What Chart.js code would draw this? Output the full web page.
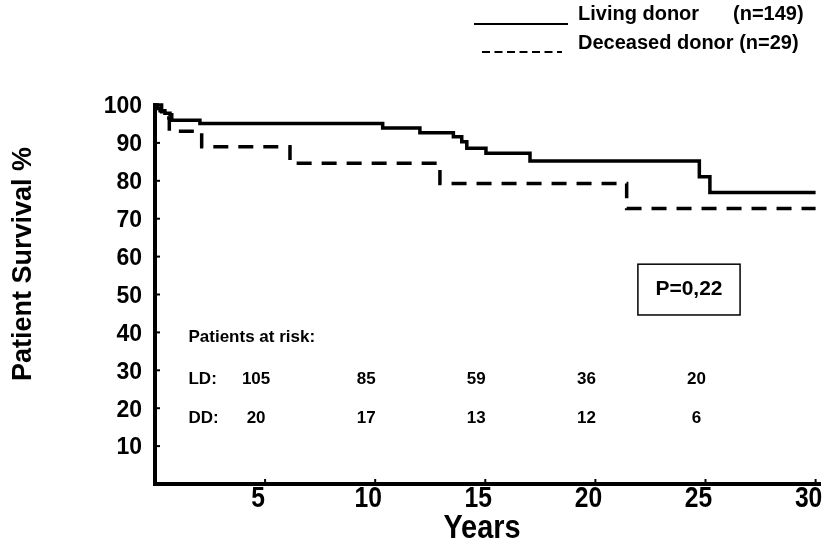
<!DOCTYPE html>
<html>
<head>
<meta charset="utf-8">
<script src="https://cdn.jsdelivr.net/npm/chart.js@4.4.1/dist/chart.umd.min.js"></script>
<style>
  html, body { margin: 0; padding: 0; background: #fff; }
  #wrap { width: 836px; height: 546px; position: relative; }
</style>
</head>
<body>
<div id="wrap"><canvas id="c" width="836" height="546"></canvas></div>
<script>
// Series labels
const seriesNames = ['Living donor', 'Deceased donor'];
const seriesCounts = ['(n=149)', '(n=29)'];

// Kaplan–Meier steps: time in years, survival in %
const ldYears    = [0, 0.09, 0.23, 0.45, 0.68, 0.76, 2.04, 10.34, 12.03, 13.55, 13.93, 14.16, 15.03, 17.03, 24.72, 25.2, 30];
const ldSurvival = [100, 99.1, 98.5, 97.8, 97.4, 96.0, 95.1, 93.9, 92.7, 91.6, 90.3, 88.6, 87.3, 85.2, 81.1, 76.9, 76.9];
const ddYears    = [0, 0.3, 0.65, 2.12, 6.13, 12.94, 21.42, 30];
const ddSurvival = [100, 96.6, 93.1, 89.0, 84.6, 79.3, 72.7, 72.7];

// Axis ticks
const xTickValues = [5, 10, 15, 20, 25, 30];
const yTickValues = [10, 20, 30, 40, 50, 60, 70, 80, 90, 100];

// Numbers at risk
const riskYears = [5, 10, 15, 20, 25];
const riskLD = [105, 85, 59, 36, 20];
const riskDD = [20, 17, 13, 12, 6];

const pValueText = 'P=0,22';

const FONT = '"Liberation Sans", Arial, sans-serif';

const toPoints = (xs, ys) => xs.map((t, i) => ({ x: t, y: ys[i] }));

// condensed bold text: regular face squeezed horizontally
function narrowText(ctx, text, cx, cy, size) {
  ctx.save();
  ctx.translate(cx, cy);
  ctx.scale(0.85, 1);
  ctx.font = 'bold ' + size + 'px ' + FONT;
  ctx.textAlign = 'center';
  ctx.textBaseline = 'middle';
  ctx.fillText(text, 0, 0);
  ctx.restore();
}

const overlay = {
  id: 'overlay',
  afterDraw(chart) {
    const { ctx, scales: { x, y } } = chart;
    ctx.save();
    ctx.fillStyle = '#000';
    ctx.strokeStyle = '#000';

    // small inner tick marks
    ctx.lineWidth = 2;
    xTickValues.forEach(v => {
      const px = x.getPixelForValue(v);
      ctx.beginPath(); ctx.moveTo(px, y.bottom); ctx.lineTo(px, y.bottom - 5); ctx.stroke();
    });
    yTickValues.slice(0, -1).forEach(v => {
      const py = y.getPixelForValue(v);
      ctx.beginPath(); ctx.moveTo(x.left, py); ctx.lineTo(x.left + 5, py); ctx.stroke();
    });

    // x tick labels (condensed)
    xTickValues.forEach(v => {
      narrowText(ctx, String(v), x.getPixelForValue(v) - 7, y.bottom + 15, 29);
    });

    // axis titles
    narrowText(ctx, 'Years', 482, 529, 34);

    ctx.save();
    ctx.translate(24, 264);
    ctx.rotate(-Math.PI / 2);
    ctx.font = 'bold 27px ' + FONT;
    ctx.textAlign = 'center';
    ctx.textBaseline = 'middle';
    ctx.fillText('Patient Survival %', 0, 0);
    ctx.restore();

    // legend
    ctx.font = 'bold 20px ' + FONT;
    ctx.textAlign = 'left';
    ctx.textBaseline = 'middle';
    ctx.fillText(seriesNames[0], 578, 14);
    ctx.fillText(seriesCounts[0], 733, 14);
    ctx.fillText(seriesNames[1] + ' ' + seriesCounts[1], 578, 43);
    ctx.lineWidth = 1.8;
    ctx.beginPath(); ctx.moveTo(474, 24); ctx.lineTo(568, 24); ctx.stroke();
    ctx.setLineDash([8, 4.5]);
    ctx.beginPath(); ctx.moveTo(482, 52); ctx.lineTo(562, 52); ctx.stroke();
    ctx.setLineDash([]);

    // p-value box
    const bx0 = x.getPixelForValue(21.93), bx1 = x.getPixelForValue(26.57);
    const by0 = y.getPixelForValue(58.0), by1 = y.getPixelForValue(44.6);
    ctx.lineWidth = 1.5;
    ctx.strokeRect(bx0, by0, bx1 - bx0, by1 - by0);
    ctx.font = 'bold 21px ' + FONT;
    ctx.textAlign = 'center';
    ctx.fillText(pValueText, (bx0 + bx1) / 2, (by0 + by1) / 2);

    // numbers at risk
    ctx.font = 'bold 17px ' + FONT;
    ctx.textAlign = 'left';
    const tx = x.getPixelForValue(1.52);
    ctx.fillText('Patients at risk:', tx, y.getPixelForValue(38.8));
    ctx.fillText('LD:', tx, y.getPixelForValue(27.7));
    ctx.fillText('DD:', tx, y.getPixelForValue(17.4));
    ctx.textAlign = 'center';
    riskYears.forEach((t, i) => {
      const px = x.getPixelForValue(t) - 9;
      ctx.fillText(String(riskLD[i]), px, y.getPixelForValue(27.7));
      ctx.fillText(String(riskDD[i]), px, y.getPixelForValue(17.4));
    });

    ctx.restore();
  }
};

new Chart(document.getElementById('c'), {
  type: 'line',
  data: {
    datasets: [
      {
        label: seriesNames[0],
        data: toPoints(ldYears, ldSurvival),
        stepped: true,
        borderColor: '#000',
        borderWidth: 3.5,
        pointRadius: 0,
        fill: false,
        clip: false
      },
      {
        label: seriesNames[1],
        data: toPoints(ddYears, ddSurvival),
        stepped: true,
        borderColor: '#000',
        borderWidth: 3.5,
        borderDash: [15, 10],
        pointRadius: 0,
        fill: false,
        clip: false
      }
    ]
  },
  options: {
    responsive: false,
    animation: false,
    devicePixelRatio: 1,
    layout: { padding: { top: 105, right: 16, left: 0, bottom: 0 } },
    plugins: { legend: { display: false }, tooltip: { enabled: false } },
    scales: {
      x: {
        type: 'linear',
        min: 0,
        max: 30.2,
        grid: { display: false, drawTicks: false },
        border: { display: true, width: 4, color: '#000' },
        afterBuildTicks: s => { s.ticks = xTickValues.map(v => ({ value: v })); },
        afterFit: s => { s.height = 62; },
        ticks: { display: false }
      },
      y: {
        type: 'linear',
        min: 0,
        max: 100,
        grid: { display: false, drawTicks: false },
        border: { display: true, width: 4, color: '#000' },
        afterBuildTicks: s => { s.ticks = yTickValues.map(v => ({ value: v })); },
        afterFit: s => { s.width = 155; },
        ticks: {
          color: '#000',
          font: { family: FONT, size: 23, weight: 'bold' },
          padding: 13,
          labelOffset: 2,
          autoSkip: false
        }
      }
    }
  },
  plugins: [overlay]
});
</script>
</body>
</html>
